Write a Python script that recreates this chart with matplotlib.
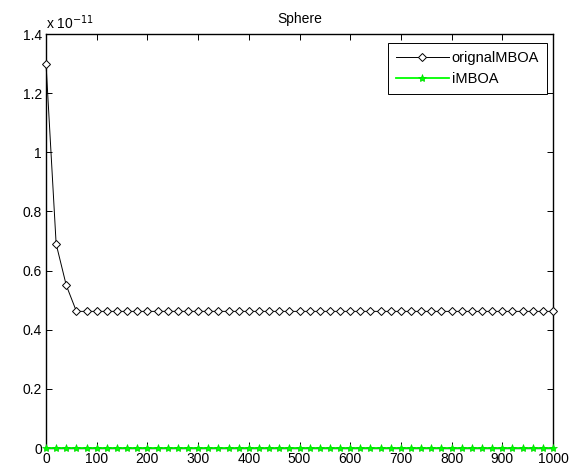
import matplotlib
matplotlib.use("Agg")
import matplotlib.pyplot as plt
from matplotlib.ticker import FuncFormatter

plt.rcParams['font.family'] = ['Liberation Sans', 'DejaVu Sans']
plt.rcParams['font.size'] = 10

iterations = list(range(0, 1001, 20))
orignal_head = [1.30e-11, 0.69e-11, 0.55e-11]
orignal_tail_value = 0.462e-11
orignal = orignal_head + [orignal_tail_value] * (len(iterations) - len(orignal_head))
imboa = [0.0] * len(iterations)

x_ticks = list(range(0, 1001, 100))
y_ticks = [0, 0.2e-11, 0.4e-11, 0.6e-11, 0.8e-11, 1.0e-11, 1.2e-11, 1.4e-11]

fig = plt.figure(figsize=(5.71, 4.74), dpi=100)
ax = fig.add_axes([46/571, 1 - 448/474, (553-46)/571, (448-34)/474])

ax.plot(iterations, orignal, color='black', lw=0.7, marker='D', markersize=4,
        markerfacecolor='white', markeredgecolor='black', markeredgewidth=0.7,
        label='orignalMBOA', zorder=3, clip_on=False)
ax.plot(iterations, imboa, color=(0, 1, 0), lw=1.3, marker='*', markersize=6,
        markeredgecolor=(0, 0.85, 0), markerfacecolor=(0, 1, 0), markeredgewidth=0.5,
        label='iMBOA', zorder=4, clip_on=False)

ax.set_xlim(0, 1000)
ax.set_ylim(0, 1.4e-11)
ax.set_xticks(x_ticks)
ax.set_yticks(y_ticks)
ax.yaxis.set_major_formatter(FuncFormatter(lambda v, p: '%g' % round(v * 1e11, 6)))
ax.tick_params(direction='in', top=True, right=True, length=4, width=0.7, labelsize=10, pad=3)
for s in ax.spines.values():
    s.set_linewidth(1.0)

ax.set_title('Sphere', fontsize=10, pad=8)
ax.text(0, 1.005, r'x 10$^{-11}$', transform=ax.transAxes, ha='left', va='bottom', fontsize=10)

leg = ax.legend(loc='upper right', bbox_to_anchor=(547/571, 1 - 43/474), bbox_transform=fig.transFigure,
                fancybox=False, framealpha=1, edgecolor='black', handlelength=3.6,
                borderpad=0.55, handletextpad=0.2, labelspacing=0.5, borderaxespad=0,
                fontsize=10.5)
leg.get_frame().set_linewidth(0.7)

fig.savefig('out.png', dpi=100)
